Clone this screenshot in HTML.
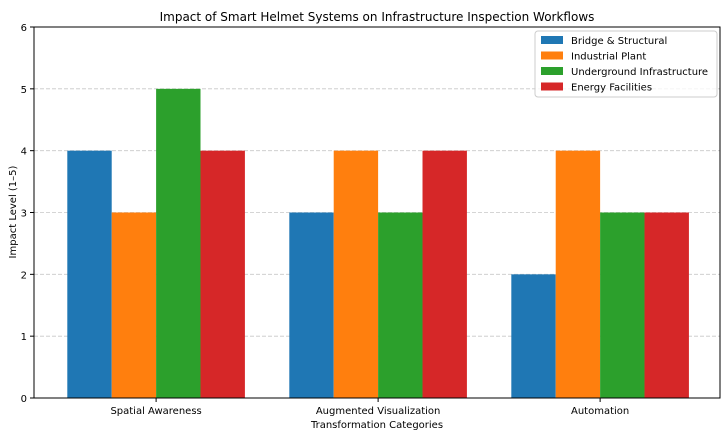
<!DOCTYPE html>
<html><head><meta charset="utf-8">
<style>
body{margin:0;background:#fff;}
svg text{font-family:"DejaVu Sans","Liberation Sans",sans-serif;fill:#000;}
</style></head>
<body>
<svg id="chart" width="728" height="434" xmlns="http://www.w3.org/2000/svg">
<rect width="728" height="434" fill="#fff"/>
<text x="377" y="21" font-size="12" text-anchor="middle">Impact of Smart Helmet Systems on Infrastructure Inspection Workflows</text>
<g id="grid"></g>
<g id="bars"></g>
<rect x="34" y="27" width="686" height="371" fill="none" stroke="#000" stroke-width="1"/>
<g id="axes"></g>
<text x="377" y="428" font-size="10" text-anchor="middle">Transformation Categories</text>
<text transform="translate(16,212) rotate(-90)" font-size="10" text-anchor="middle">Impact Level (1–5)</text>
<g id="legend"></g>
</svg>
<script>
const categories=["Spatial Awareness","Augmented Visualization","Automation"];
const seriesNames=["Bridge & Structural","Industrial Plant","Underground Infrastructure","Energy Facilities"];
const bridge=[4,3,2];
const industrial=[3,4,4];
const underground=[5,3,3];
const energy=[4,4,3];
const yTicks=[0,1,2,3,4,5,6];
const colors=["#1f77b4","#ff7f0e","#2ca02c","#d62728"];
const series=[bridge,industrial,underground,energy];
const NS="http://www.w3.org/2000/svg";
const L=34,R=720,T=27,B=398;
const xmin=-0.55,xmax=2.54,ymax=6;
const xs=v=>L+(v-xmin)/(xmax-xmin)*(R-L);
const ys=v=>B-v/ymax*(B-T);
function mk(tag,attrs,parent){const e=document.createElementNS(NS,tag);for(const k in attrs)e.setAttribute(k,attrs[k]);document.getElementById(parent).appendChild(e);return e;}
yTicks.forEach(t=>{
  const y=ys(t);
  if(t>0&&t<ymax){const g=mk("line",{x1:L,x2:R,y1:y,y2:y,stroke:"#c8c8c8","stroke-width":0.8,"stroke-dasharray":"4,2"},"grid");
  
  }
  const tk=mk("line",{x1:L-4,x2:L,y1:y,y2:y,stroke:"#000"},"axes");
  
  
  const tx=mk("text",{x:L-7,y:y+4,"font-size":10,"text-anchor":"end"},"axes");
  tx.textContent=t;
  
  
});
const w=0.2;
series.forEach((s,si)=>{
  s.forEach((v,ci)=>{
    const x0=xs(ci+(si-2)*w),x1=xs(ci+(si-1)*w);
    const r=mk("rect",{x:x0,y:ys(v),width:x1-x0,height:ys(0)-ys(v),fill:colors[si]},"bars");
    
    
  });
});
categories.forEach((c,ci)=>{
  const x=xs(ci);
  const tk=mk("line",{x1:x,x2:x,y1:B,y2:B+4,stroke:"#000"},"axes");
  
  
  const tx=mk("text",{x:x,y:B+16,"font-size":10,"text-anchor":"middle"},"axes");
  tx.textContent=c;
  
  
});
const bg=mk("rect",{x:535,y:31,width:182,height:66,rx:3,fill:"#fff","fill-opacity":0.8,stroke:"#ccc"},"legend");


seriesNames.forEach((n,i)=>{
  const y=36+i*15.5;
  const sw=mk("rect",{x:541,y:y,width:22,height:8,fill:colors[i]},"legend");
  
  
  const t=mk("text",{x:571,y:y+8,"font-size":10},"legend");
  t.textContent=n;
  
  
});
</script>
</body></html>
